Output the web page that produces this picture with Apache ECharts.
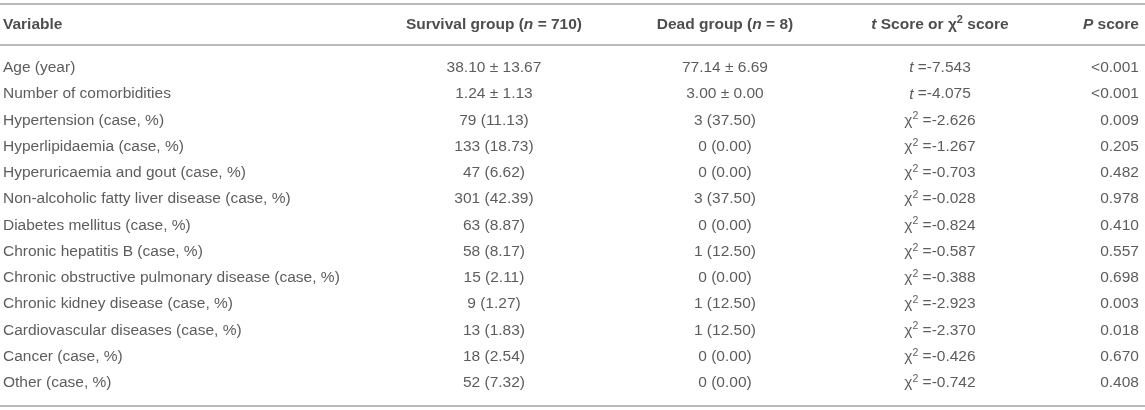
<!DOCTYPE html>
<html>
<head>
<meta charset="utf-8">
<script src="https://cdn.jsdelivr.net/npm/echarts@6/dist/echarts.min.js"></script>
<style>
  html, body { margin: 0; padding: 0; background: #fff; }
  #main { width: 1145px; height: 410px; }
</style>
</head>
<body>
<div id="main"></div>
<script>
// table contents
var variables = [
    'Age (year)',
    'Number of comorbidities',
    'Hypertension (case, %)',
    'Hyperlipidaemia (case, %)',
    'Hyperuricaemia and gout (case, %)',
    'Non-alcoholic fatty liver disease (case, %)',
    'Diabetes mellitus (case, %)',
    'Chronic hepatitis B (case, %)',
    'Chronic obstructive pulmonary disease (case, %)',
    'Chronic kidney disease (case, %)',
    'Cardiovascular diseases (case, %)',
    'Cancer (case, %)',
    'Other (case, %)'
];
var survival = ['38.10 \u00b1 13.67', '1.24 \u00b1 1.13', '79 (11.13)', '133 (18.73)', '47 (6.62)',
    '301 (42.39)', '63 (8.87)', '58 (8.17)', '15 (2.11)', '9 (1.27)', '13 (1.83)', '18 (2.54)', '52 (7.32)'];
var dead = ['77.14 \u00b1 6.69', '3.00 \u00b1 0.00', '3 (37.50)', '0 (0.00)', '0 (0.00)',
    '3 (37.50)', '0 (0.00)', '1 (12.50)', '0 (0.00)', '1 (12.50)', '1 (12.50)', '0 (0.00)', '0 (0.00)'];
var statType = ['t', 't', 'chi2', 'chi2', 'chi2', 'chi2', 'chi2', 'chi2', 'chi2', 'chi2', 'chi2', 'chi2', 'chi2'];
var statValue = ['-7.543', '-4.075', '-2.626', '-1.267', '-0.703', '-0.028', '-0.824',
    '-0.587', '-0.388', '-2.923', '-2.370', '-0.426', '-0.742'];
var pValues = ['<0.001', '<0.001', '0.009', '0.205', '0.482', '0.978', '0.410',
    '0.557', '0.698', '0.003', '0.018', '0.670', '0.408'];
var headers = [
    '{b|Variable}',
    '{b|Survival group (}{bi|n}{b| = 710)}',
    '{b|Dead group (}{bi|n}{b| = 8)}',
    '{bi|t}{b| Score or \u03c7}{bsup|2}{b| score}',
    '{bi|P}{b| score}'
];

// layout of the columns (x on a 0..1145 axis) and their alignment
var colX = [3, 494, 725, 940, 1139];
var colAlign = ['left', 'center', 'center', 'center', 'right'];

var FONT = '"Liberation Sans", Arial, Helvetica, sans-serif';
var TXT = '#333';
var LINE = '#a3a3a3';

var rich = {
    n: { fontFamily: FONT, fontSize: 15.5, color: TXT, lineHeight: 19 },
    it: { fontFamily: FONT, fontSize: 15.5, color: TXT, fontStyle: 'italic', lineHeight: 19 },
    sup: { fontFamily: FONT, fontSize: 10.5, color: TXT, verticalAlign: 'top', lineHeight: 19 },
    b: { fontFamily: FONT, fontSize: 15.5, color: '#222', fontWeight: 'bold', lineHeight: 19 },
    bi: { fontFamily: FONT, fontSize: 15.5, color: '#222', fontWeight: 'bold', fontStyle: 'italic', lineHeight: 19 },
    bsup: { fontFamily: FONT, fontSize: 11, color: '#222', fontWeight: 'bold', verticalAlign: 'top', lineHeight: 19 }
};

function statText(i) {
    if (statType[i] == 't')
        return '{it|t}{n| =' + statValue[i] + '}';
    return '{n|\u03c7}{sup|2}{n| =' + statValue[i] + '}';
}

function cellSeries(col, gridIdx, rows, texts) {
    var _data = [];
    for (var i = 0; i < rows.length; i++) {
        _data.push({ value: [colX[col], rows[i]], text: texts[i] });
    }
    return {
        type: 'scatter',
        xAxisIndex: gridIdx == 0 ? 0 : 1,
        yAxisIndex: gridIdx,
        symbolSize: 0.1,
        itemStyle: { color: 'rgba(0,0,0,0)' },
        silent: true,
        label: {
            show: true,
            position: [0, 0],
            align: colAlign[col],
            verticalAlign: 'middle',
            rich: rich,
            formatter: function (p) { return p.data.text; }
        },
        data: _data
    };
}

var bodyCols = [
    variables.map(function (v) { return '{n|' + v + '}'; }),
    survival.map(function (v) { return '{n|' + v + '}'; }),
    dead.map(function (v) { return '{n|' + v + '}'; }),
    variables.map(function (v, i) { return statText(i); }),
    pValues.map(function (v) { return '{n|' + v + '}'; })
];

var series = [];
for (var c = 0; c < 5; c++) {
    series.push(cellSeries(c, 0, ['header'], [headers[c]]));
    series.push(cellSeries(c, 1, variables, bodyCols[c]));
}

var hiddenAxis = { show: false };
var myChart = echarts.init(document.getElementById('main'));
myChart.setOption({
    animation: false,
    grid: [
        { left: 0, right: 0, top: 4, height: 41 },
        { left: 0, right: 0, top: 68, bottom: 27 }
    ],
    xAxis: [
        {
            gridIndex: 0, type: 'value', min: 0, max: 1145, position: 'top',
            axisLine: { show: true, lineStyle: { color: LINE, width: 1.5 } },
            axisTick: hiddenAxis, axisLabel: hiddenAxis, splitLine: hiddenAxis
        },
        {
            gridIndex: 1, type: 'value', min: 0, max: 1145, position: 'top', offset: 23,
            axisLine: { show: true, lineStyle: { color: LINE, width: 1.5 } },
            axisTick: hiddenAxis, axisLabel: hiddenAxis, splitLine: hiddenAxis
        },
        {
            gridIndex: 1, type: 'value', min: 0, max: 1145, position: 'bottom', offset: 23,
            axisLine: { show: true, lineStyle: { color: LINE, width: 1.5 } },
            axisTick: hiddenAxis, axisLabel: hiddenAxis, splitLine: hiddenAxis
        }
    ],
    yAxis: [
        { gridIndex: 0, type: 'category', data: ['header'], show: false },
        { gridIndex: 1, type: 'category', data: variables, inverse: true, boundaryGap: false, show: false }
    ],
    series: series
});
</script>
</body>
</html>
